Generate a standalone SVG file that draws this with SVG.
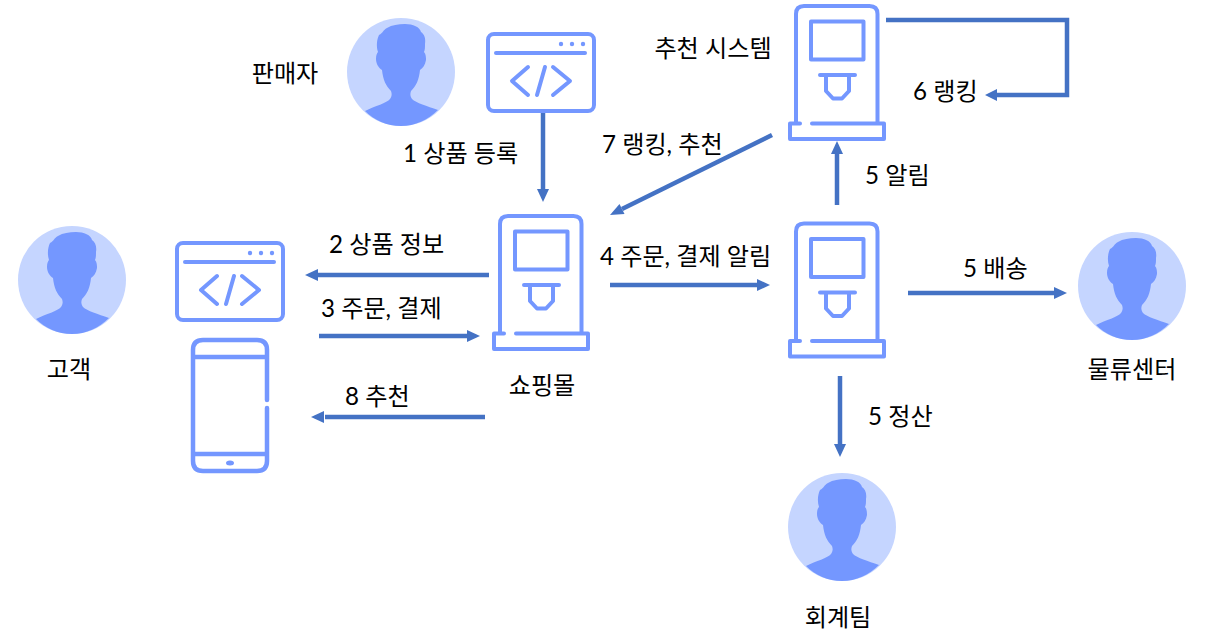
<svg xmlns="http://www.w3.org/2000/svg" xmlns:xlink="http://www.w3.org/1999/xlink" width="1205" height="641" viewBox="0 0 1205 641">
<style>
text{font-family:"Lato","Noto Sans CJK KR",sans-serif;font-size:24.15px;fill:#000}
.i{fill:none;stroke:#7497FF;stroke-width:4;stroke-linecap:round;stroke-linejoin:round}
.d{fill:#7497FF}
.c{fill:none;stroke:#4472C4;stroke-width:4.500}
.h{fill:#4472C4}
</style>
<defs>
<g id="server">
<path class="i" d="M0 119V10Q0 2 8 2H73.500Q81.500 2 81.500 10V119"/>
<path class="i" d="M4 119.500H-6V135H88V119.500H16"/>
<rect class="i" x="15" y="17.500" width="52.500" height="38"/>
<path class="i" d="M24 71H59M30 71V87L37 94.500H46L53 87V71"/>
</g>
<g id="web">
<rect class="i" x="2" y="2" width="106" height="77" rx="6"/>
<path class="i" d="M10 21H99"/>
<path class="i" d="M42 35L26 49 42 63M67 35L84 49 67 63M59 35L51 63"/>
<circle class="d" cx="75" cy="12" r="2.200"/><circle class="d" cx="86" cy="12" r="2.200"/><circle class="d" cx="97" cy="12" r="2.200"/>
</g>
<g id="person">
<circle cx="0" cy="0" r="54" fill="#C5D5FF"/>
<path class="d" d="M-36 39C-26 34-14 31-11 27C-9 24-9 22-10 19C-15 14-18 8-19 -2C-22 -4-25 -8-25 -13C-25 -17-24 -19-23 -20C-25 -26-24 -33-22 -37C-18 -39-18 -42-14 -44C-9 -47-3 -48 4 -48C12 -48 19 -45 20 -40C23 -38 25 -34 24 -28C24 -25 24 -22 23 -20C25 -18 25 -14 25 -12C24 -7 22 -4 19 -2C18 8 15 14 10 19C9 22 9 24 11 27C15 31 26 34 37 38C27 48 14 54 0 54C-14 54-27 48-36 39Z"/>
</g>
</defs>

<g id="connectors">
<path class="c" d="M543 113V192"/><path class="h" d="M543 202L537 189H549Z"/>
<path class="c" d="M489 275H318"/><path class="h" d="M305 275L318 269V281Z"/>
<path class="c" d="M319 336H468"/><path class="h" d="M480 336L467 330V342Z"/>
<path class="c" d="M485 417H325"/><path class="h" d="M311 417L324 411V423Z"/>
<path class="c" d="M610 285H758"/><path class="h" d="M770 285L757 279V291Z"/>
<path class="c" d="M772 135L622 209"/><path class="h" d="M610 215L619.500 204 624.500 214Z"/>
<path class="c" d="M837 205V153"/><path class="h" d="M837 141L843 154H831Z"/>
<path class="c" d="M908 293H1055"/><path class="h" d="M1067 293L1054 287V299Z"/>
<path class="c" d="M840 376V445"/><path class="h" d="M840 457L834 444H846Z"/>
<path class="c" d="M886 20H1067V95H996"/><path class="h" d="M985 95L997 89V101Z"/>
</g>

<g id="seller"><use xlink:href="#person" href="#person" x="401" y="72"/><text x="285" y="82" text-anchor="middle">판매자</text></g>
<g id="seller-web"><use xlink:href="#web" href="#web" x="486" y="32"/></g>
<g id="customer"><use xlink:href="#person" href="#person" x="72" y="280"/><text x="69" y="378" text-anchor="middle">고객</text></g>
<g id="customer-web"><use xlink:href="#web" href="#web" x="175" y="241"/></g>
<g id="customer-phone">
<path class="i" style="stroke-width:4.500" d="M267 400V350Q267 340 257 340H203Q193 340 193 350V461Q193 471 203 471H257Q267 471 267 461V408M193 357H267M193 454H267"/>
<ellipse class="d" cx="230" cy="463" rx="4" ry="2.500"/>
</g>
<g id="shop"><use xlink:href="#server" href="#server" x="500" y="214"/><text x="542" y="394" text-anchor="middle">쇼핑몰</text></g>
<g id="recommender"><use xlink:href="#server" href="#server" x="796" y="4"/><text x="713" y="57" text-anchor="middle">추천 시스템</text></g>
<g id="order-server"><use xlink:href="#server" href="#server" x="796" y="221.500"/></g>
<g id="logistics"><use xlink:href="#person" href="#person" x="1132" y="286"/><text x="1132" y="378" text-anchor="middle">물류센터</text></g>
<g id="accounting"><use xlink:href="#person" href="#person" x="842" y="527"/><text x="838" y="626" text-anchor="middle">회계팀</text></g>

<g id="labels">
<text x="403" y="162">1 상품 등록</text>
<text x="329" y="253">2 상품 정보</text>
<text x="321" y="317">3 주문, 결제</text>
<text x="600" y="265">4 주문, 결제 알림</text>
<text x="865" y="184">5 알림</text>
<text x="963" y="277">5 배송</text>
<text x="868" y="425">5 정산</text>
<text x="913" y="100">6 랭킹</text>
<text x="602" y="153">7 랭킹, 추천</text>
<text x="345" y="405">8 추천</text>
</g>
</svg>
